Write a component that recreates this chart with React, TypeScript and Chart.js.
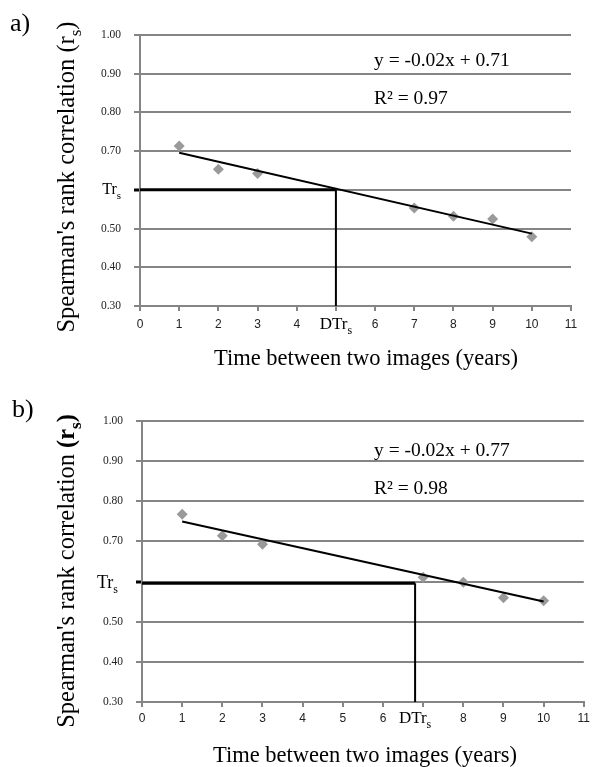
import React, { useEffect, useRef } from "react";
import { Chart, registerables } from "chart.js";

Chart.register(...registerables);

// ---------- data ----------
const xTickValues = [0, 1, 2, 3, 4, 5, 6, 7, 8, 9, 10, 11];
const yTickValues = [0.3, 0.4, 0.5, 0.6, 0.7, 0.8, 0.9, 1.0];

const timeA = [1, 2, 3, 7, 8, 9, 10];
const rsA = [0.713, 0.653, 0.642, 0.553, 0.532, 0.525, 0.479];
const trendXA = [1, 10];
const trendYA = [0.696, 0.487];
const trsA = 0.6;
const dtrsA = 5;
const hiddenXA = 5;
const eqA = "y = -0.02x + 0.71";
const r2A = "R² = 0.97";

const timeB = [1, 2, 3, 7, 8, 9, 10];
const rsB = [0.768, 0.714, 0.693, 0.611, 0.598, 0.56, 0.552];
const trendXB = [1, 10];
const trendYB = [0.7495, 0.5505];
const trsB = 0.596;
const dtrsB = 6.8;
const hiddenXB = 7;
const eqB = "y = -0.02x + 0.77";
const r2B = "R² = 0.98";

const yMin = 0.3;
const yMax = 1.0;
const xMin = 0;
const xMax = 11;

const SERIF = '"Liberation Serif", "Times New Roman", serif';
const SANS = '"Liberation Sans", Arial, sans-serif';
const GRID = "#858585";
const MARKER = "#9a9a9a";

type Seg = { t: string; size: number; dy?: number; bold?: boolean };

function drawRich(ctx: CanvasRenderingContext2D, segs: Seg[], x: number, y: number, align: "left" | "center" | "right") {
  ctx.textBaseline = "alphabetic";
  ctx.textAlign = "left";
  let total = 0;
  const widths = segs.map((s) => {
    ctx.font = `${s.bold ? "bold " : ""}${s.size}px ${SERIF}`;
    const w = ctx.measureText(s.t).width;
    total += w;
    return w;
  });
  let cx = align === "left" ? x : align === "center" ? x - total / 2 : x - total;
  segs.forEach((s, i) => {
    ctx.font = `${s.bold ? "bold " : ""}${s.size}px ${SERIF}`;
    ctx.fillText(s.t, cx, y + (s.dy || 0));
    cx += widths[i];
  });
}

type Panel = {
  label: string;
  xs: number[];
  ys: number[];
  trendX: number[];
  trendY: number[];
  trs: number;
  dtrs: number;
  hiddenX: number;
  eq: string;
  r2: string;
  boldRs: boolean;
  top: number;
  height: number;
  area: { left: number; right: number; top: number; bottom: number };
  labelPos: [number, number];
  yTitle: { bx: number; cy: number; size: number };
  xTitle: { cx: number; by: number; size: number };
  eqPos: [number, number, number];
  trsStyle: { size: number; gap: number; dy: number };
  dtrStyle: { size: number; dy: number };
  xTickPad: number;
};

const panels: Panel[] = [
  {
    label: "a)",
    xs: timeA,
    ys: rsA,
    trendX: trendXA,
    trendY: trendYA,
    trs: trsA,
    dtrs: dtrsA,
    hiddenX: hiddenXA,
    eq: eqA,
    r2: r2A,
    boldRs: false,
    top: 0,
    height: 383,
    area: { left: 140, right: 571, top: 35, bottom: 306 },
    labelPos: [10, 31],
    yTitle: { bx: 74, cy: 177, size: 24.5 },
    xTitle: { cx: 366, by: 365, size: 22.5 },
    eqPos: [374, 66, 104],
    trsStyle: { size: 16, gap: 19, dy: 4 },
    dtrStyle: { size: 17, dy: 23 },
    xTickPad: 6,
  },
  {
    label: "b)",
    xs: timeB,
    ys: rsB,
    trendX: trendXB,
    trendY: trendYB,
    trs: trsB,
    dtrs: dtrsB,
    hiddenX: hiddenXB,
    eq: eqB,
    r2: r2B,
    boldRs: true,
    top: 383,
    height: 384,
    area: { left: 142, right: 584, top: 38, bottom: 319 },
    labelPos: [12, 34],
    yTitle: { bx: 74, cy: 188, size: 24.5 },
    xTitle: { cx: 365, by: 379, size: 22.5 },
    eqPos: [374, 73, 111],
    trsStyle: { size: 18, gap: 24, dy: 6 },
    dtrStyle: { size: 17, dy: 21 },
    xTickPad: 4,
  },
];

const W = 594;

function makeTextPlugin(p: Panel) {
  return {
    id: "panelText" + p.label,
    afterDraw(chart: any) {
      const ctx: CanvasRenderingContext2D = chart.ctx;
      const xs = chart.scales.x;
      const ys = chart.scales.y;
      ctx.save();
      ctx.fillStyle = "#000";
      // panel label
      drawRich(ctx, [{ t: p.label, size: 26 }], p.labelPos[0], p.labelPos[1], "left");
      // equation & R2
      drawRich(ctx, [{ t: p.eq, size: 19.5 }], p.eqPos[0], p.eqPos[1], "left");
      drawRich(ctx, [{ t: p.r2, size: 19.5 }], p.eqPos[0], p.eqPos[2], "left");
      // Tr_s label on y axis
      const ty = ys.getPixelForValue(0.6);
      const ts = p.trsStyle.size;
      drawRich(
        ctx,
        [
          { t: "Tr", size: ts },
          { t: "s", size: Math.round(ts * 0.68), dy: ts * 0.3 },
        ],
        chart.chartArea.left - p.trsStyle.gap,
        ty + p.trsStyle.dy,
        "right"
      );
      // DTr_s label on x axis
      const dx = xs.getPixelForValue(p.dtrs);
      const ds = p.dtrStyle.size;
      drawRich(
        ctx,
        [
          { t: "DTr", size: ds },
          { t: "s", size: Math.round(ds * 0.68), dy: ds * 0.3 },
        ],
        dx,
        chart.chartArea.bottom + p.dtrStyle.dy,
        "center"
      );
      // x title
      drawRich(ctx, [{ t: "Time between two images (years)", size: p.xTitle.size }], p.xTitle.cx, p.xTitle.by, "center");
      // y title
      ctx.translate(p.yTitle.bx, p.yTitle.cy);
      ctx.rotate(-Math.PI / 2);
      const s = p.yTitle.size;
      drawRich(
        ctx,
        [
          { t: "Spearman's rank correlation ", size: s },
          { t: "(r", size: s, bold: p.boldRs },
          { t: "s", size: Math.round(s * 0.68), dy: s * 0.3, bold: p.boldRs },
          { t: ")", size: s, bold: p.boldRs },
        ],
        0,
        0,
        "center"
      );
      ctx.restore();
    },
  };
}

function PanelChart({ p }: { p: Panel }) {
  const ref = useRef<HTMLCanvasElement | null>(null);
  useEffect(() => {
    if (!ref.current) return;
    const isTrs = (v: number) => Math.abs(v - 0.6) < 1e-6;
    const chart = new Chart(ref.current, {
      type: "scatter",
      data: {
        datasets: [
          {
            type: "line",
            data: p.trendX.map((x, i) => ({ x, y: p.trendY[i] })),
            borderColor: "#000",
            borderWidth: 2,
            pointRadius: 0,
            order: 0,
          } as any,
          {
            type: "line",
            data: [
              { x: xMin, y: p.trs },
              { x: p.dtrs, y: p.trs },
            ],
            borderColor: "#000",
            borderWidth: 3,
            pointRadius: 0,
            order: 1,
          } as any,
          {
            type: "line",
            data: [
              { x: p.dtrs, y: yMin },
              { x: p.dtrs, y: p.trs },
            ],
            borderColor: "#000",
            borderWidth: 2,
            pointRadius: 0,
            order: 1,
          } as any,
          {
            type: "scatter",
            data: p.xs.map((x, i) => ({ x, y: p.ys[i] })),
            pointStyle: "rectRot",
            pointRadius: 5.5,
            backgroundColor: MARKER,
            borderColor: MARKER,
            borderWidth: 0,
            order: 2,
          } as any,
        ],
      },
      options: {
        responsive: false,
        animation: false,
        events: [],
        layout: { padding: { left: 0, right: W - p.area.right, top: p.area.top, bottom: 0 } },
        plugins: { legend: { display: false }, tooltip: { enabled: false } },
        scales: {
          x: {
            type: "linear",
            min: xMin,
            max: xMax,
            afterBuildTicks: (s: any) => {
              s.ticks = xTickValues.map((v) => ({ value: v }));
            },
            afterFit: (s: any) => {
              s.height = p.height - p.area.bottom;
            },
            ticks: {
              padding: p.xTickPad,
              color: "#222",
              maxRotation: 0,
              autoSkip: false,
              font: { family: SANS, size: 12 },
              callback: (v: any) => (Math.abs(v - p.hiddenX) < 1e-6 ? "" : String(v)),
            },
            grid: { drawOnChartArea: false, drawTicks: true, tickLength: 5, color: GRID, lineWidth: 2 },
            border: { display: true, color: GRID, width: 2 },
          },
          y: {
            type: "linear",
            min: yMin,
            max: yMax,
            afterBuildTicks: (s: any) => {
              s.ticks = yTickValues.map((v) => ({ value: v }));
            },
            afterFit: (s: any) => {
              s.width = p.area.left;
            },
            ticks: {
              padding: 13,
              color: "#222",
              font: { family: SERIF, size: 11.5 },
              callback: (v: any) => (isTrs(v) ? "" : Number(v).toFixed(2)),
            },
            grid: {
              color: GRID,
              lineWidth: 2,
              tickLength: 6,
              tickColor: (c: any) => (c.tick && isTrs(c.tick.value) ? "#000" : GRID),
              tickWidth: (c: any) => (c.tick && isTrs(c.tick.value) ? 3 : 2),
            },
            border: { display: true, color: GRID, width: 2 },
          },
        },
      } as any,
      plugins: [makeTextPlugin(p)],
    });
    return () => chart.destroy();
  }, [p]);
  return (
    <canvas
      ref={ref}
      width={W}
      height={p.height}
      style={{ position: "absolute", left: 0, top: p.top, width: W, height: p.height }}
    />
  );
}

export default function App() {
  return (
    <div style={{ position: "absolute", left: 0, top: 0, width: W, height: 767, background: "#fff" }}>
      {panels.map((p) => (
        <PanelChart key={p.label} p={p} />
      ))}
    </div>
  );
}
